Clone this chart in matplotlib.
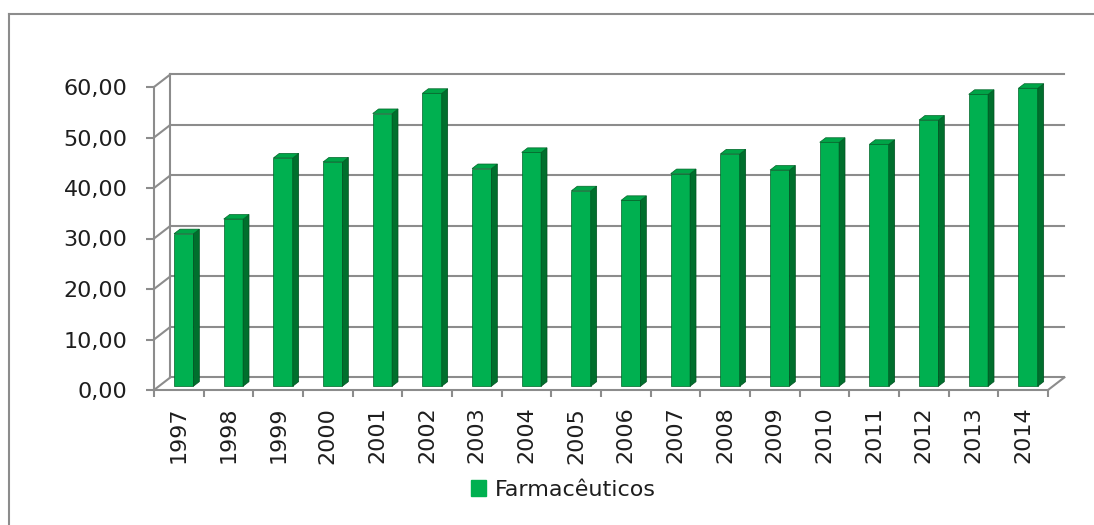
"""
Farmacêuticos 1997-2014, Excel-like 3D column chart.
"""
import matplotlib
matplotlib.use("Agg")
import matplotlib.pyplot as plt
import matplotlib.patches as mpatches
from matplotlib.lines import Line2D

years = [str(y) for y in range(1997, 2015)]
values = [30.2, 33.1, 45.2, 44.4, 54.0, 58.0, 43.1, 46.3, 38.7,
          36.8, 42.1, 46.0, 42.8, 48.3, 47.9, 52.7, 57.8, 59.0]
y_ticks = [0, 10, 20, 30, 40, 50, 60]
series_name = "Farmacêuticos"

GREEN = "#00B050"
GREEN_SIDE = "#006F2D"
GREEN_TOP = "#00A548"
GRID = "#8c8c8c"
TXT = "#1e1e1e"

W, H = 1094, 525
fig = plt.figure(figsize=(W / 100, H / 100), dpi=100)

# outer chart border (cropped at right/bottom)
fig.add_artist(Line2D([9 / W, 9 / W], [0, 1 - 14 / H], color=GRID, lw=1.5))
fig.add_artist(Line2D([9 / W, 1], [1 - 14 / H, 1 - 14 / H], color=GRID, lw=1.5))

# front plane of the 3D box
ax = fig.add_axes([154 / W, (H - 390) / H, 894 / W, 303 / H])
n = len(values)
x0, x1 = -0.5, n - 0.5
ax.set_xlim(x0, x1)
ax.set_ylim(0, 60)

# depth offsets (in data units) of the back wall
dx, dy = 0.33, 2.5

# back wall gridlines + left side diagonals
for v in y_ticks:
    ax.plot([x0 + dx, x1 + dx], [v + dy, v + dy], color=GRID, lw=1.5,
            clip_on=False, zorder=1)
    ax.plot([x0, x0 + dx], [v, v + dy], color=GRID, lw=1.5,
            clip_on=False, zorder=1)
ax.plot([x0 + dx, x0 + dx], [dy, 60 + dy], color=GRID, lw=1.5,
        clip_on=False, zorder=1)
ax.plot([x1, x1 + dx], [0, dy], color=GRID, lw=1.5, clip_on=False, zorder=1)

# bars: front face + side + top
f1, f2, bw = 0.30, 0.66, 0.39
xs = [i + f1 * dx for i in range(n)]
ax.bar(xs, values, width=bw, bottom=f1 * dy, color=GREEN,
       edgecolor="#006428", linewidth=0.5, zorder=3, clip_on=False)
ddx, ddy = (f2 - f1) * dx, (f2 - f1) * dy
for xc, v in zip(xs, values):
    xl, xr = xc - bw / 2, xc + bw / 2
    yb, yt = f1 * dy, v + f1 * dy
    side = mpatches.Polygon([(xr, yb), (xr, yt), (xr + ddx, yt + ddy), (xr + ddx, yb + ddy)],
                            closed=True, fc=GREEN_SIDE, ec="#005020", lw=0.5,
                            zorder=3, clip_on=False)
    top = mpatches.Polygon([(xl, yt), (xr, yt), (xr + ddx, yt + ddy), (xl + ddx, yt + ddy)],
                           closed=True, fc=GREEN_TOP, ec="#006428", lw=0.5,
                           zorder=3, clip_on=False)
    ax.add_patch(side)
    ax.add_patch(top)

# axes styling
for s in ["top", "right"]:
    ax.spines[s].set_visible(False)
for s in ["left", "bottom"]:
    ax.spines[s].set_color(GRID)
    ax.spines[s].set_linewidth(1.5)
    ax.spines[s].set_zorder(2)

ax.set_yticks(y_ticks)
ax.set_yticklabels([f"{v:.2f}".replace(".", ",") for v in y_ticks])
ax.tick_params(axis="y", length=6, width=1.5, color=GRID, pad=13,
               labelsize=16, labelcolor=TXT)

ax.set_xticks([i - 0.5 for i in range(n + 1)])
ax.set_xticklabels([])
ax.tick_params(axis="x", which="major", length=5, width=1.5, color=GRID)
ax.set_xticks(range(n), minor=True)
ax.set_xticklabels(years, minor=True, rotation=90)
ax.tick_params(axis="x", which="minor", length=0, pad=12,
               labelsize=16, labelcolor=TXT)

handle = mpatches.Patch(color=GREEN, label=series_name)
fig.legend(handles=[handle], loc="center", bbox_to_anchor=(0.515, 0.067),
           frameon=False, fontsize=16, handlelength=0.7, handleheight=0.7,
           handletextpad=0.4, labelcolor=TXT)

fig.savefig("out.png", dpi=100)
